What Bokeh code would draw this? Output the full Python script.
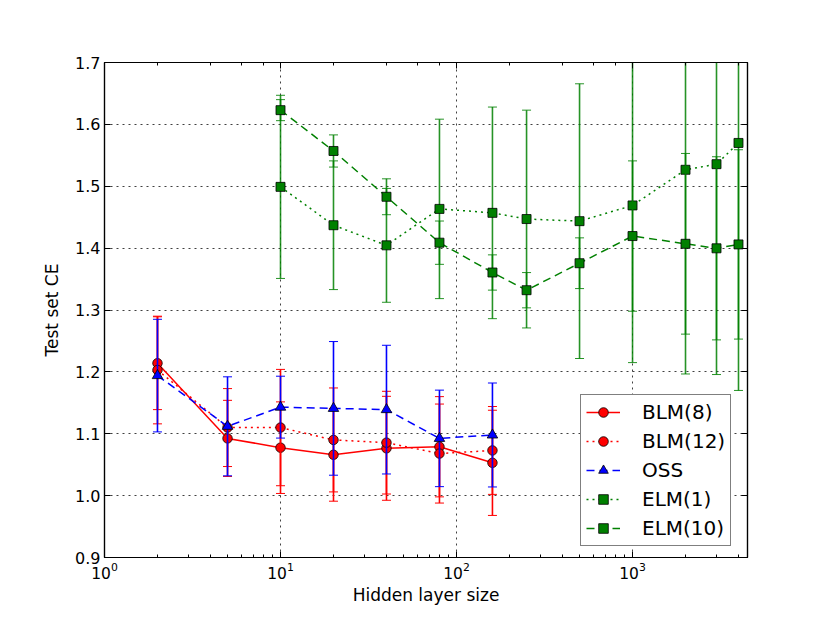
from bokeh.plotting import figure
from bokeh.models import (LogAxis, LinearAxis, Legend, LegendItem, FixedTicker,
                          LogTicker, PrintfTickFormatter, ColumnDataSource)
from bokeh.embed import file_html
from bokeh.resources import INLINE

# ---------------- data ----------------
x_blm = [2, 5, 10, 20, 40, 80, 160]
blm8 = [1.214, 1.0925, 1.0775, 1.066, 1.0765, 1.079, 1.053]
blm8_err = [0.075, 0.0615, 0.074, 0.075, 0.084, 0.081, 0.085]
blm12 = [1.203, 1.110, 1.110, 1.090, 1.0856, 1.068, 1.073]
blm12_err = [0.087, 0.063, 0.094, 0.084, 0.083, 0.080, 0.071]
oss = [1.194, 1.112, 1.143, 1.141, 1.139, 1.0925, 1.098]
oss_err = [0.091, 0.080, 0.050, 0.108, 0.104, 0.078, 0.084]

x_elm = [10, 20, 40, 80, 160, 250, 500, 1000, 2000, 3000, 4000]
elm1 = [1.499, 1.437, 1.4045, 1.4634, 1.457, 1.447, 1.4436, 1.469, 1.5266, 1.5357, 1.570]
elm1_err = [0.148, 0.104, 0.092, 0.145, 0.171, 0.176, 0.222, 0.254, 0.330, 0.340, 0.400]
elm10 = [1.623, 1.557, 1.483, 1.4088, 1.3606, 1.332, 1.3756, 1.4195, 1.407, 1.3997, 1.406]
elm10_err = [0.017, 0.026, 0.029, 0.035, 0.0285, 0.0285, 0.041, 0.1215, 0.146, 0.148, 0.153]

y_ticks = [0.9, 1.0, 1.1, 1.2, 1.3, 1.4, 1.5, 1.6, 1.7]

FONT = "DejaVu Sans"

p = figure(width=814, height=607, x_axis_type="log", x_range=(1, 4500),
           y_range=(0.9, 1.7), output_backend="svg", toolbar_location=None,
           min_border_left=104, min_border_right=67, min_border_top=62,
           min_border_bottom=47)
p.background_fill_color = "white"
p.border_fill_color = "white"
p.outline_line_color = "black"
p.outline_line_width = 1.2

# grids
for g in (p.xgrid, p.ygrid):
    g.grid_line_color = "black"
    g.grid_line_alpha = 0.75
    g.grid_line_dash = "2 4"
    g.grid_line_width = 1
p.ygrid.ticker = FixedTicker(ticks=y_ticks)

def style_axis(ax, size="16px", labels=True, minor=True):
    ax.axis_line_color = "black"
    ax.axis_line_width = 1.2
    ax.major_tick_in = 6
    ax.major_tick_out = 0
    ax.minor_tick_in = 3 if minor else 0
    ax.minor_tick_out = 0
    ax.major_tick_line_color = "black"
    ax.minor_tick_line_color = "black"
    ax.major_label_text_font = FONT
    ax.major_label_text_color = "black"
    ax.axis_label_text_color = "black"
    if labels:
        ax.major_label_text_font_size = size
    else:
        ax.major_label_text_font_size = "0px"
        ax.major_label_text_alpha = 0

# bottom / left
xa = p.xaxis[0]
style_axis(xa, size="15.5px")
xa.major_label_standoff = 4
xa.axis_label = "Hidden layer size"
xa.axis_label_text_font = FONT
xa.axis_label_text_font_size = "17px"
xa.axis_label_text_font_style = "normal"
xa.axis_label_standoff = 3

ya = p.yaxis[0]
ya.ticker = FixedTicker(ticks=y_ticks)
ya.formatter = PrintfTickFormatter(format="%.1f")
style_axis(ya, size="16px", minor=False)
ya.major_label_standoff = 4
ya.axis_label = "Test set CE"
ya.axis_label_text_font = FONT
ya.axis_label_text_font_size = "17px"
ya.axis_label_text_font_style = "normal"
ya.axis_label_standoff = 10

top = LogAxis(ticker=LogTicker())
style_axis(top, labels=False)
p.add_layout(top, "above")
right = LinearAxis(ticker=FixedTicker(ticks=y_ticks))
style_axis(right, labels=False, minor=False)
p.add_layout(right, "right")

# ---------------- series ----------------
def series(x, y, err, color, marker, dash, msize, bar_alpha=1.0):
    lower = [a - b for a, b in zip(y, err)]
    upper = [a + b for a, b in zip(y, err)]
    src = ColumnDataSource(dict(x=x, y=y, lo=lower, hi=upper))
    p.segment(x0="x", y0="lo", x1="x", y1="hi", source=src,
              line_color=color, line_width=1.6, line_alpha=bar_alpha)
    p.scatter(x="x", y="lo", source=src, marker="dash", size=9,
              line_color=color, line_width=1.0, line_alpha=bar_alpha)
    p.scatter(x="x", y="hi", source=src, marker="dash", size=9,
              line_color=color, line_width=1.0, line_alpha=bar_alpha)
    ln = p.line(x="x", y="y", source=src, line_color=color, line_width=1.5,
                line_dash=dash)
    sc = p.scatter(x="x", y="y", source=src, marker=marker, size=msize,
                   fill_color=color, line_color="black", line_width=0.8)
    return [ln, sc]

r_blm8 = series(x_blm, blm8, blm8_err, "#ff0000", "circle", "solid", 9.5)
r_blm12 = series(x_blm, blm12, blm12_err, "#ff0000", "circle", "2 4", 9.5)
r_oss = series(x_blm, oss, oss_err, "#0000ff", "triangle", "8 5", 10.5)
r_elm1 = series(x_elm, elm1, elm1_err, "#008000", "square", "2 4", 9, 0.85)
r_elm10 = series(x_elm, elm10, elm10_err, "#008000", "square", "8 5", 9, 0.85)

legend = Legend(items=[
    LegendItem(label="BLM(8)", renderers=r_blm8),
    LegendItem(label="BLM(12)", renderers=r_blm12),
    LegendItem(label="OSS", renderers=r_oss),
    LegendItem(label="ELM(1)", renderers=r_elm1),
    LegendItem(label="ELM(10)", renderers=r_elm10),
], location=(476, 11))
legend.label_text_font = FONT
legend.label_text_font_size = "20px"
legend.label_text_color = "black"
legend.border_line_color = "black"
legend.border_line_width = 1.2
legend.background_fill_alpha = 1
legend.padding = 5
legend.margin = 0
legend.spacing = 5
legend.glyph_width = 34
legend.glyph_height = 24
legend.label_height = 24
legend.label_standoff = 22
legend.label_width = 0
p.add_layout(legend, "center")

open("out.html", "w").write(file_html(p, INLINE))
